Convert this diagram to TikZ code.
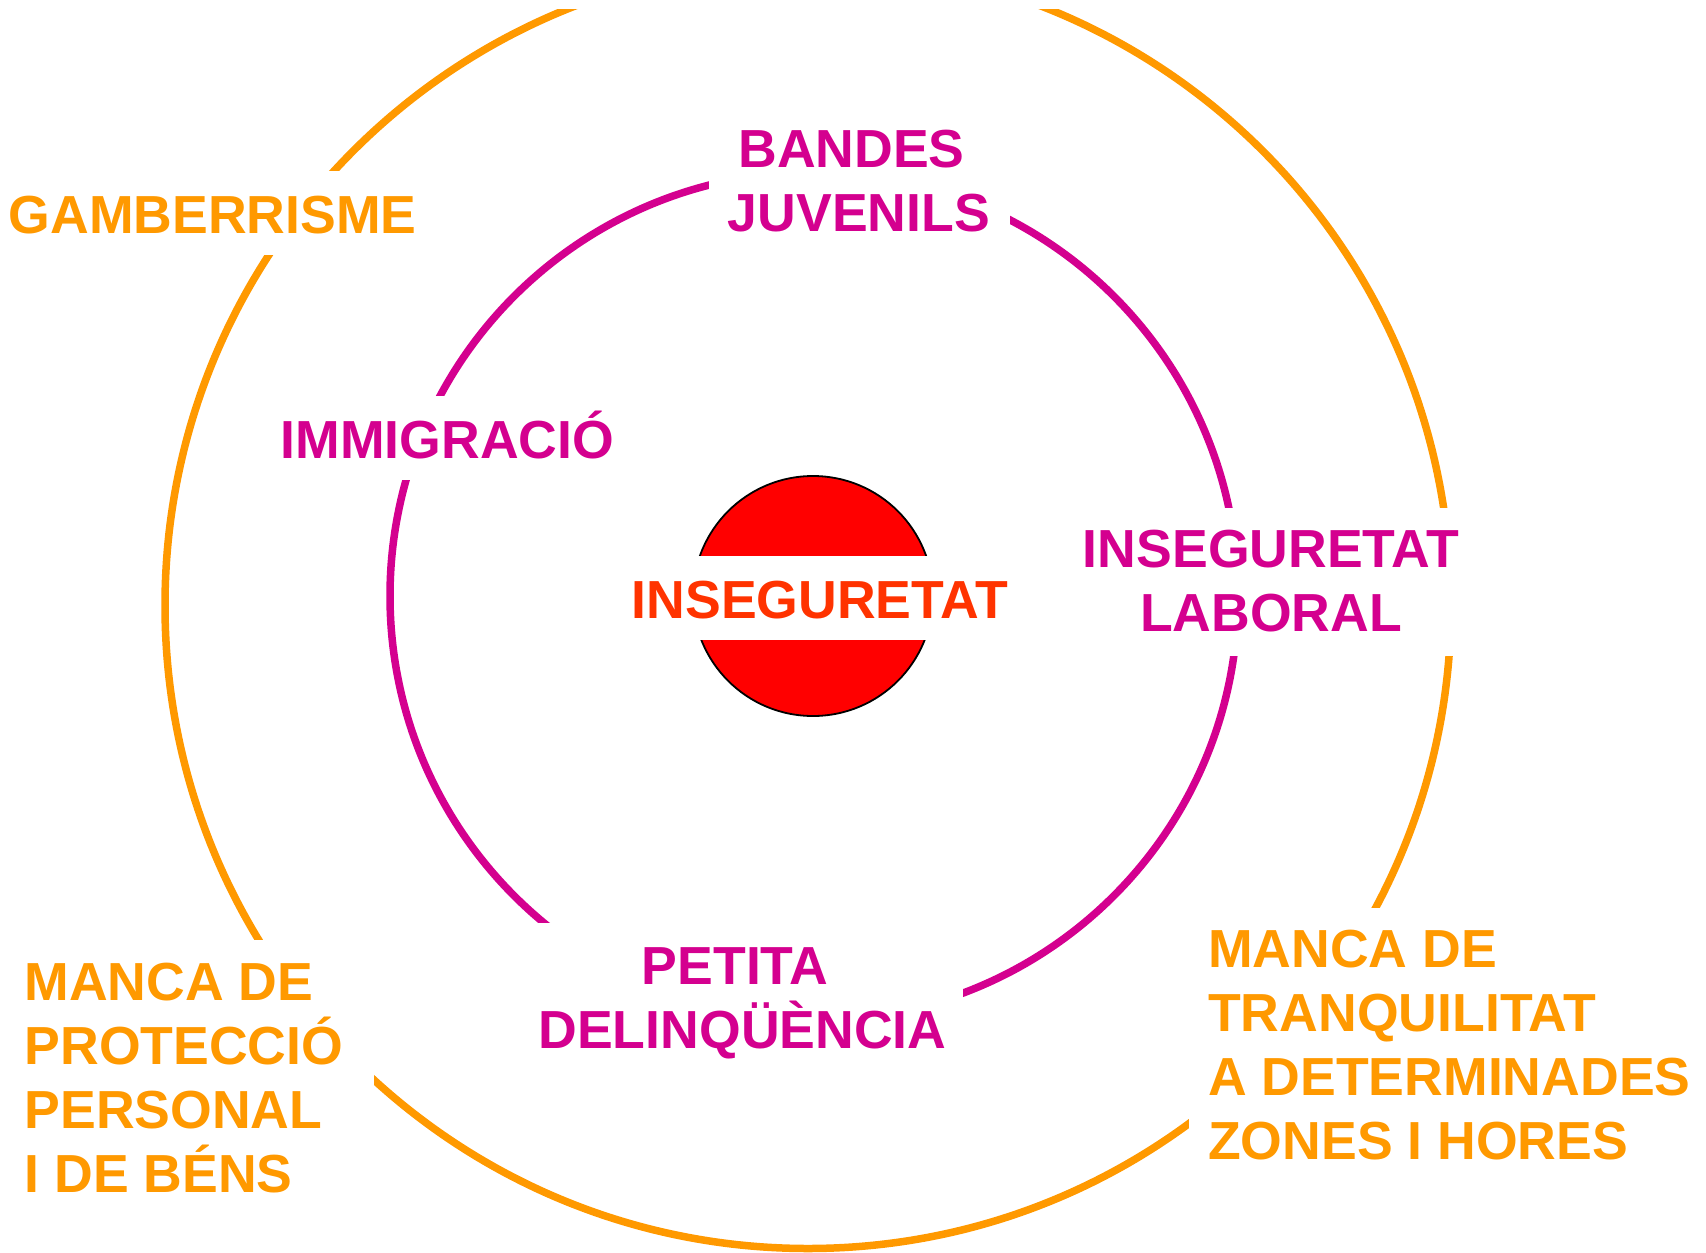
\documentclass[tikz,border=0pt]{standalone}
\usepackage{fontspec}
\setmainfont{Liberation Sans}
\definecolor{ringorange}{HTML}{FF9900}
\definecolor{ringmag}{HTML}{D4008F}
\definecolor{coretext}{HTML}{FF3300}
\definecolor{corefill}{HTML}{FF0000}
\begin{document}
\begin{tikzpicture}[x=1pt,y=-1pt,
  lbl/.style={font=\bfseries\fontsize{53.6}{64}\selectfont, inner sep=0pt},
  outerlbl/.style={lbl, text=ringorange},
  innerlbl/.style={lbl, text=ringmag},
  ring/.style={line width=7.5pt},
  mask/.style={fill=white}]
\useasboundingbox (0,0) rectangle (1706,1253);
\fill[white] (0,0) rectangle (1706,1253);
% rings
\draw[ring, ringorange] (808,605.5) circle[radius=643];
\draw[ring, ringmag] (814,596) circle[radius=424];
\draw[line width=1.8pt, fill=corefill] (813,596) circle[radius=120];
% white boxes behind the labels
\fill[mask] (-20,-60) rectangle (1726,9);
\fill[mask] (-20,171) rectangle (440,255);
\fill[mask] (709,108) rectangle (1010,256);
\fill[mask] (255,396) rectangle (640,480);
\fill[mask] (620,556) rectangle (1030,640);
\fill[mask] (1060,508) rectangle (1490,656);
\fill[mask] (-20,940) rectangle (374,1216);
\fill[mask] (510,923) rectangle (963,1073);
\fill[mask] (1189,908) rectangle (1726,1185);
% labels
\node[outerlbl, anchor=base west] (gamb) at (8.5,233) {GAMBERRISME};
\node[innerlbl, anchor=north, align=center] (bandes) at (859,130.3) {BANDES\hspace*{0.278em}\\JUVENILS};
\node[innerlbl, anchor=base west] (immi) at (280.5,458) {IMMIGRACIÓ};
\node[lbl, text=coretext, anchor=base west] (core) at (631.5,618) {INSEGURETAT};
\node[innerlbl, anchor=north, align=center] (labor) at (1271,530.3) {INSEGURETAT\\LABORAL};
\node[innerlbl, anchor=north, align=center] (petita) at (742.5,947.3) {PETITA\hspace*{0.278em}\\DELINQÜÈNCIA};
\node[outerlbl, anchor=north west, align=left] (protec) at (24.4,962.7) {MANCA DE\\PROTECCIÓ\\PERSONAL\\I DE BÉNS};
\node[outerlbl, anchor=north west, align=left] (tranq) at (1208,930.3) {MANCA DE\\TRANQUILITAT\\A DETERMINADES\\ZONES I HORES};
\end{tikzpicture}
\end{document}
